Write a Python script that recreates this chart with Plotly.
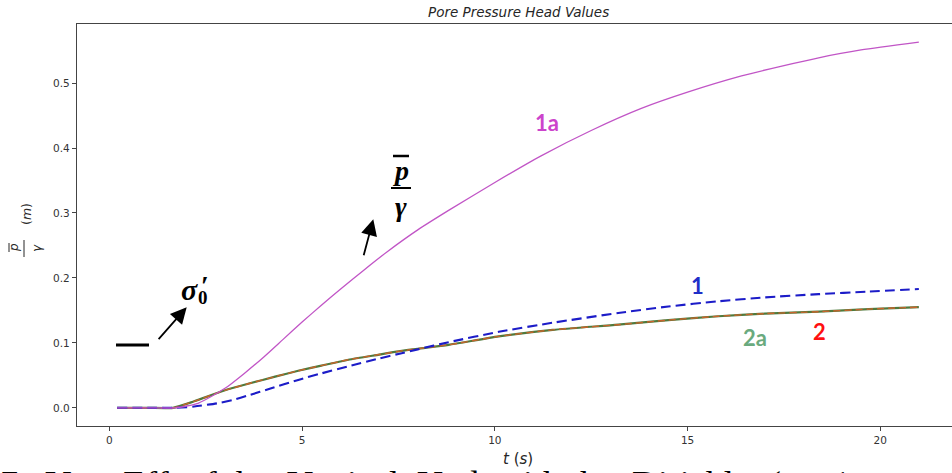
import plotly.graph_objects as go

# ---------------- data ----------------
t_1a = [0.2, 1.0, 1.7, 2.3, 3.0, 3.5, 4.0, 4.5, 5.0, 5.5, 6.0, 6.6, 7.2, 8.0, 8.8,
        10.0, 11.2, 12.5, 13.8, 15.0, 16.4, 17.5, 18.4, 19.5, 21.0]
p_1a = [0.0, 0.0, 0.0, 0.007, 0.030, 0.053, 0.078, 0.105, 0.132, 0.158, 0.183, 0.212,
        0.240, 0.274, 0.304, 0.347, 0.388, 0.427, 0.461, 0.486, 0.511, 0.527, 0.539,
        0.551, 0.563]

t_1 = [0.2, 1.0, 1.7, 2.2, 2.8, 3.2, 3.6, 4.2, 4.9, 5.5, 6.2, 7.0, 7.5, 8.0, 8.8,
       10.1, 11.5, 13.2, 14.5, 15.8, 17.0, 18.4, 19.7, 21.0]
p_1 = [0.0, 0.0, 0.0, 0.002, 0.007, 0.012, 0.019, 0.030, 0.043, 0.053, 0.064, 0.076,
       0.083, 0.090, 0.101, 0.117, 0.131, 0.146, 0.156, 0.164, 0.170, 0.175, 0.179, 0.183]

t_2 = [0.2, 1.0, 1.65, 2.2, 3.0, 3.6, 4.3, 4.9, 5.5, 6.2, 7.0, 7.5, 8.0, 8.8, 10.1,
       11.5, 13.2, 14.5, 15.8, 17.0, 18.4, 19.7, 21.0]
p_2 = [0.0, 0.0, 0.0, 0.010, 0.027, 0.037, 0.048, 0.057, 0.065, 0.074, 0.082, 0.087,
       0.091, 0.097, 0.110, 0.120, 0.128, 0.135, 0.141, 0.145, 0.148, 0.152, 0.155]
t_2a = list(t_2)
p_2a = list(p_2)

x_ticks = [0, 5, 10, 15, 20]
y_ticks = [0.0, 0.1, 0.2, 0.3, 0.4, 0.5]
x_range = [-0.84, 21.86]
y_range = [-0.028, 0.591]

# ---------------- layout geometry ----------------
W, H = 952, 473
L, R, T, B = 77, 952, 24, 426


def ppx(px):
    return (px - L) / (R - L)


def ppy(py):
    return (B - py) / (B - T)


fig = go.Figure()
fig.add_trace(go.Scatter(x=t_2a, y=p_2a, mode="lines", name="2a",
                         line=dict(color="#4f7a3c", width=2.2, shape="spline", smoothing=0.6)))
fig.add_trace(go.Scatter(x=t_2, y=p_2, mode="lines", name="2",
                         line=dict(color="#c8642c", width=1.4, dash="7px,4px",
                                   shape="spline", smoothing=0.6)))
fig.add_trace(go.Scatter(x=t_1, y=p_1, mode="lines", name="1",
                         line=dict(color="#1c1cc8", width=2.1, dash="10px,5px",
                                   shape="spline", smoothing=0.6)))
fig.add_trace(go.Scatter(x=t_1a, y=p_1a, mode="lines", name="1a",
                         line=dict(color="#c155c6", width=1.3, shape="spline", smoothing=0.6)))

axis_col = "#444444"
tick_font = dict(family="DejaVu Sans", size=10.5, color="#333333")

fig.update_xaxes(range=x_range, tickvals=x_ticks, showgrid=False, zeroline=False,
                 showline=True, linecolor=axis_col, linewidth=1.3, mirror=True,
                 ticks="outside", ticklen=4, tickcolor=axis_col, tickfont=tick_font)
fig.update_yaxes(range=y_range, tickvals=y_ticks, tickformat=".1f", showgrid=False,
                 zeroline=False, showline=True, linecolor=axis_col, linewidth=1.3,
                 ticks="outside", ticklen=4, tickcolor=axis_col, tickfont=tick_font)

ann = []


def text(px, py, s, size, color="black", family="Lato", angle=0, xanchor="center",
         yanchor="middle"):
    ann.append(dict(x=ppx(px), y=ppy(py), xref="paper", yref="paper", text=s,
                    showarrow=False, textangle=angle, xanchor=xanchor, yanchor=yanchor,
                    font=dict(family=family, size=size, color=color)))


# title
text(518.5, 12, "<i>Pore Pressure Head Values</i>", 13.5, "#262626", "DejaVu Sans")
# x axis label
text(518, 459, "<i>t</i> (<i>s</i>)", 15, "#262626", "DejaVu Sans")
# y axis label (rotated fraction)
text(14, 248, "<i>p</i>", 12, "#262626", "DejaVu Sans", angle=-90)
text(37, 248, "<i>γ</i>", 12, "#262626", "DejaVu Sans", angle=-90)
text(27, 214, "(<i>m</i>)", 12.5, "#262626", "DejaVu Sans", angle=-90)

# curve labels
text(547, 122, "<b>1a</b>", 22, "#cc44cc")
text(697, 285, "<b>1</b>", 22, "#1f2fc8")
text(755, 337, "<b>2a</b>", 22, "#6aaa7e")
text(819, 331, "<b>2</b>", 22, "#ff1010")

# p-bar / gamma
text(401, 170, "<b><i>p</i></b>", 28, "black", "Liberation Serif")
text(401, 206, "<b><i>γ</i></b>", 28, "black", "Liberation Serif")
# sigma'_0
text(189, 289, "<b><i>σ</i></b>", 30, "black", "Liberation Serif")
text(205, 285, "<b>′</b>", 28, "black", "Liberation Serif")
text(203, 297, "<b>0</b>", 19, "black", "Liberation Serif")

# caption fragment clipped at the bottom
ann.append(dict(x=ppx(-2), y=ppy(462), xref="paper", yref="paper",
                text="7:  Vert. Eff. of the  Vertical  Und. with the  Dirichlet (eq. 1",
                showarrow=False, xanchor="left", yanchor="top",
                font=dict(family="Liberation Serif", size=36, color="black")))

# arrows
for (tx, ty, sx, sy) in [(186.7, 307.3, 157.3, 340.7), (373.3, 219.3, 363.3, 256.7)]:
    ann.append(dict(x=ppx(tx), y=ppy(ty), xref="paper", yref="paper", text="",
                    showarrow=True, ax=sx - tx, ay=sy - ty, arrowhead=2, arrowsize=1.8,
                    arrowwidth=1.8, arrowcolor="black", standoff=0))

shapes = [
    # overbar and fraction bar of p/gamma
    dict(type="line", xref="paper", yref="paper", x0=ppx(393), x1=ppx(409),
         y0=ppy(156), y1=ppy(156), line=dict(color="black", width=2.5)),
    dict(type="line", xref="paper", yref="paper", x0=ppx(391), x1=ppx(411),
         y0=ppy(188), y1=ppy(188), line=dict(color="black", width=2)),
    # y label overbar and fraction bar
    dict(type="line", xref="paper", yref="paper", x0=ppx(9), x1=ppx(9),
         y0=ppy(243), y1=ppy(252), line=dict(color="#262626", width=1)),
    dict(type="line", xref="paper", yref="paper", x0=ppx(24), x1=ppx(24),
         y0=ppy(240), y1=ppy(257), line=dict(color="#262626", width=1)),
    # black dash marker
    dict(type="line", xref="paper", yref="paper", x0=ppx(116), x1=ppx(149),
         y0=ppy(345), y1=ppy(345), line=dict(color="black", width=3)),
]

fig.update_layout(width=W, height=H, margin=dict(l=L, r=W - R, t=T, b=H - B),
                  paper_bgcolor="white", plot_bgcolor="white", showlegend=False,
                  annotations=ann, shapes=shapes)

fig.write_html("out.html")
